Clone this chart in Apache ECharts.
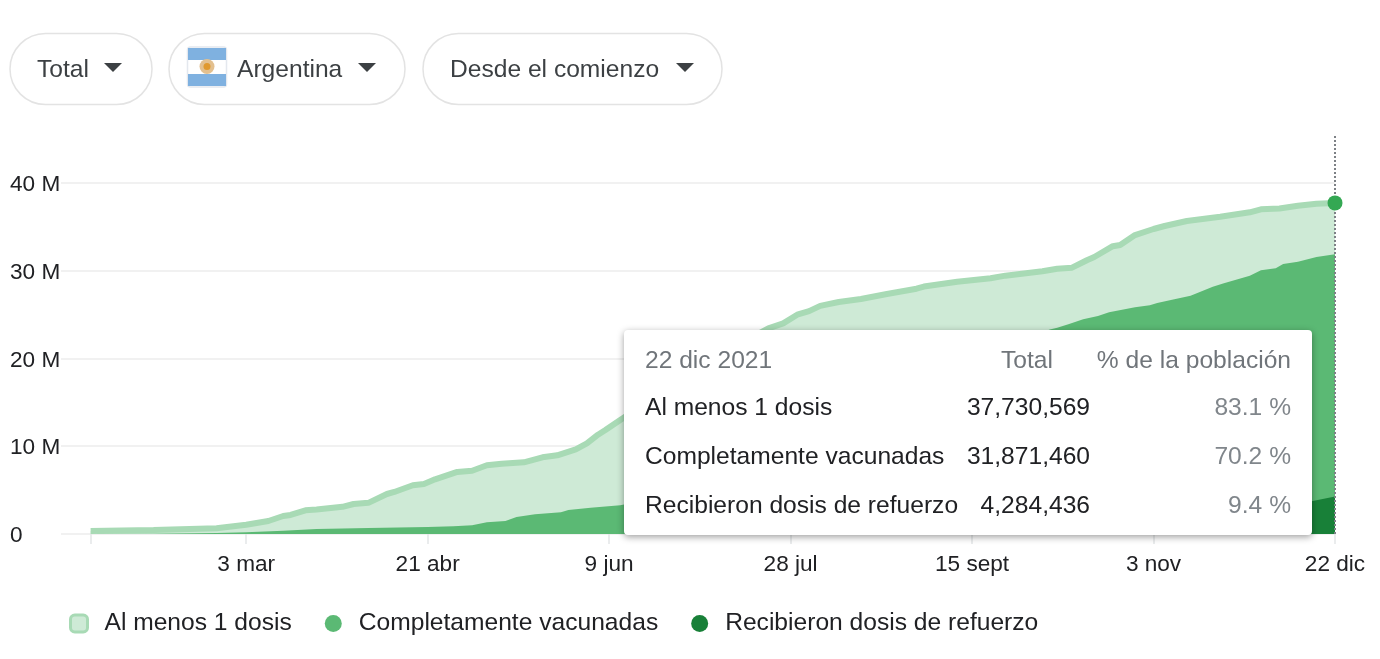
<!DOCTYPE html>
<html>
<head>
<meta charset="utf-8">
<style>html,body{margin:0;padding:0;background:#fff}#chart{width:1380px;height:659px}</style>
<script src="https://cdn.jsdelivr.net/npm/echarts@6/dist/echarts.min.js"></script>
</head>
<body>
<div id="chart"></div>
<script>
// Vaccination progress in Argentina, cumulative people in millions.
// Day numbers count from the first recorded day, 20 Jan 2021.
const firstDoseDays = [0,17,34,42,48,52,54,58,61,68,71,75,80,82,87,90,93,99,103,107,111,117,122,126,131,134,137,139,143,151,164,175,183,187,191,194,197,202,208,215,223,225,234,243,247,257,261,265,269,271,276,278,282,287,290,296,305,313,316,321,326,331,336];
const firstDoseValues = [0.35,0.46,0.65,1.06,1.48,2.05,2.17,2.7,2.8,3.1,3.42,3.55,4.56,4.79,5.55,5.7,6.23,7.07,7.21,7.83,8.01,8.17,8.74,8.97,9.65,10.33,11.32,11.85,12.99,15.2,19,21.6,23.44,24,25.04,25.4,26,26.44,26.78,27.35,27.95,28.2,28.75,29.14,29.44,29.94,30.23,30.35,31.2,31.57,32.8,32.94,34.07,34.76,35.1,35.67,36.16,36.66,37,37.1,37.4,37.64,37.730569];
const fullDays = [0,17,34,42,52,61,75,91,98,103,107,112,115,120,127,129,135,143,164,191,218,245,259,261,264,268,272,275,282,286,288,292,297,303,306,313,316,320,322,326,331,336];
const fullValues = [0,0.04,0.1,0.2,0.38,0.57,0.68,0.8,0.88,0.99,1.33,1.48,1.94,2.24,2.47,2.73,3,3.27,5,9.6,15.8,21,23.3,23.5,23.9,24.47,24.84,25.26,25.83,26.06,26.32,26.7,27.16,28.18,28.57,29.44,30.05,30.28,30.77,31.03,31.57,31.87146];
const boosterDays = [275,300,320,329,336];
const boosterValues = [0,1,2.6,3.68,4.284436];

const seriesNames = ['Al menos 1 dosis','Completamente vacunadas','Recibieron dosis de refuerzo'];
const tickDays = [0,42,91,140,189,238,287,336];
const tickLabels = ['','3 mar','21 abr','9 jun','28 jul','15 sept','3 nov','22 dic'];
const yTicks = [0,10,20,30,40];

const tableHeader = ['22 dic 2021','Total','% de la población'];
const tableTotals = ['37,730,569','31,871,460','4,284,436'];
const tablePercents = ['83.1 %','70.2 %','9.4 %'];

const FONT = '"Liberation Sans", Arial, sans-serif';
const TEXT = '24.6px ' + FONT;
const toPoints = (days, values) => days.map((d,i) => [d, values[i]]);
const labelFor = Object.fromEntries(tickDays.map((t,i) => [t, tickLabels[i]]));
const lastDay = tickDays[tickDays.length-1];
const lastFirstDose = firstDoseValues[firstDoseValues.length-1];

// Dropdown pills above the chart
function pill(x, w, label, textX, caretX) {
  return [
    {type:'rect', shape:{x:x, y:33.5, width:w, height:71, r:35.5}, style:{fill:'#fff', stroke:'#e3e3e3', lineWidth:1.5}},
    {type:'text', style:{x:textX, y:70, text:label, fill:'#3c4043', font:TEXT, textVerticalAlign:'middle'}},
    {type:'polygon', shape:{points:[[caretX,63],[caretX+18,63],[caretX+9,72]]}, style:{fill:'#3c4043'}}
  ];
}
const flag = [
  {type:'rect', shape:{x:187.5, y:47, width:39, height:40, r:3}, style:{fill:'#fff', stroke:'#e4e8ee', lineWidth:1.5}},
  {type:'rect', shape:{x:188, y:48, width:38, height:12}, style:{fill:'#7fb1e0'}},
  {type:'rect', shape:{x:188, y:74, width:38, height:12}, style:{fill:'#7fb1e0'}},
  {type:'circle', shape:{cx:207, cy:66.5, r:7.5}, style:{fill:'#e3c08f'}},
  {type:'circle', shape:{cx:207, cy:66.5, r:3.5}, style:{fill:'#e0992f'}}
];

// Summary card for the latest day
const columnX = {label:645, total:1090, percent:1291};
const rowY = [408,457,506];
const card = [
  {type:'rect', shape:{x:624, y:330, width:688, height:205, r:4}, style:{fill:'#fff', shadowBlur:7, shadowOffsetY:2, shadowColor:'rgba(0,0,0,0.38)'}},
  {type:'text', style:{x:columnX.label, y:361, text:tableHeader[0], fill:'#70757a', font:TEXT, textVerticalAlign:'middle'}},
  {type:'text', style:{x:1053, y:361, text:tableHeader[1], fill:'#70757a', font:TEXT, textAlign:'right', textVerticalAlign:'middle'}},
  {type:'text', style:{x:columnX.percent, y:361, text:tableHeader[2], fill:'#70757a', font:TEXT, textAlign:'right', textVerticalAlign:'middle'}}
];
seriesNames.forEach((name,i) => {
  card.push(
    {type:'text', style:{x:columnX.label, y:rowY[i], text:name, fill:'#202124', font:TEXT, textVerticalAlign:'middle'}},
    {type:'text', style:{x:columnX.total, y:rowY[i], text:tableTotals[i], fill:'#202124', font:TEXT, textAlign:'right', textVerticalAlign:'middle'}},
    {type:'text', style:{x:columnX.percent, y:rowY[i], text:tablePercents[i], fill:'#80868b', font:TEXT, textAlign:'right', textVerticalAlign:'middle'}}
  );
});

const overlay = [
  ...pill(10,142,'Total',37,104),
  ...pill(169,236,'Argentina',237,358),
  ...pill(423,299,'Desde el comienzo',450,676),
  ...flag,
  ...card
].map(el => ({...el, z:100, silent:true}));

const chart = echarts.init(document.getElementById('chart'), null, {renderer:'canvas'});
chart.setOption({
  animation:false,
  backgroundColor:'#fff',
  textStyle:{fontFamily:FONT},
  grid:{left:61, right:45, top:135, bottom:125, containLabel:false},
  xAxis:{
    type:'value',
    min:-8,
    max:lastDay,
    splitLine:{show:false},
    axisLine:{show:false},
    axisTick:{show:true, length:10, customValues:tickDays, lineStyle:{color:'#e4e6e8', width:1.5}},
    axisLabel:{
      show:true, margin:19, hideOverlap:false, customValues:tickDays.slice(1),
      color:'#202124', fontSize:22.6, fontFamily:FONT,
      formatter:v => labelFor[v] || ''
    }
  },
  yAxis:{
    type:'value', min:0, max:45.47, interval:10,
    axisLine:{show:false}, axisTick:{show:false},
    splitLine:{show:true, showMaxLine:false, lineStyle:{color:'#f1f1f1', width:2}},
    axisLabel:{
      align:'left', verticalAlign:'top', lineHeight:4, margin:51, color:'#202124', fontSize:22.6, fontFamily:FONT, showMaxLabel:false,
      formatter:v => yTicks.includes(v) ? (v === 0 ? '0' : v+' M') : ''
    }
  },
  legend:{
    left:69, top:611, padding:0, itemWidth:17, itemHeight:17, itemGap:33, icon:'circle',
    textStyle:{color:'#202124', fontSize:24.6, fontFamily:FONT, padding:[0,0,0,12]},
    data:[
      {name:seriesNames[0], icon:'roundRect', itemStyle:{color:'#ceead6', borderColor:'#a8dab5', borderWidth:3}},
      {name:seriesNames[1], itemStyle:{color:'#5bb974', borderWidth:0}},
      {name:seriesNames[2], itemStyle:{color:'#188038', borderWidth:0}}
    ]
  },
  series:[
    {
      name:seriesNames[0], type:'line', symbol:'none', clip:false, z:2,
      lineStyle:{color:'#a8dab5', width:6}, itemStyle:{color:'#a8dab5'},
      areaStyle:{color:'#ceead6', opacity:1},
      data:toPoints(firstDoseDays, firstDoseValues)
    },
    {
      name:seriesNames[1], type:'line', symbol:'none', clip:false, z:3,
      lineStyle:{width:0}, itemStyle:{color:'#5bb974'},
      areaStyle:{color:'#5bb974', opacity:1},
      data:toPoints(fullDays, fullValues)
    },
    {
      name:seriesNames[2], type:'line', symbol:'none', clip:false, z:4,
      lineStyle:{width:0}, itemStyle:{color:'#188038'},
      areaStyle:{color:'#188038', opacity:1},
      data:toPoints(boosterDays, boosterValues),
      markLine:{
        silent:true, symbol:'none', label:{show:false},
        lineStyle:{color:'#7d8186', type:'dotted', width:2},
        data:[{xAxis:lastDay}]
      },
      markPoint:{
        silent:true, symbol:'circle', symbolSize:15, label:{show:false},
        itemStyle:{color:'#34a853'},
        data:[{coord:[lastDay,lastFirstDose]}]
      }
    }
  ],
  graphic:{elements:overlay}
});
</script>
</body>
</html>
